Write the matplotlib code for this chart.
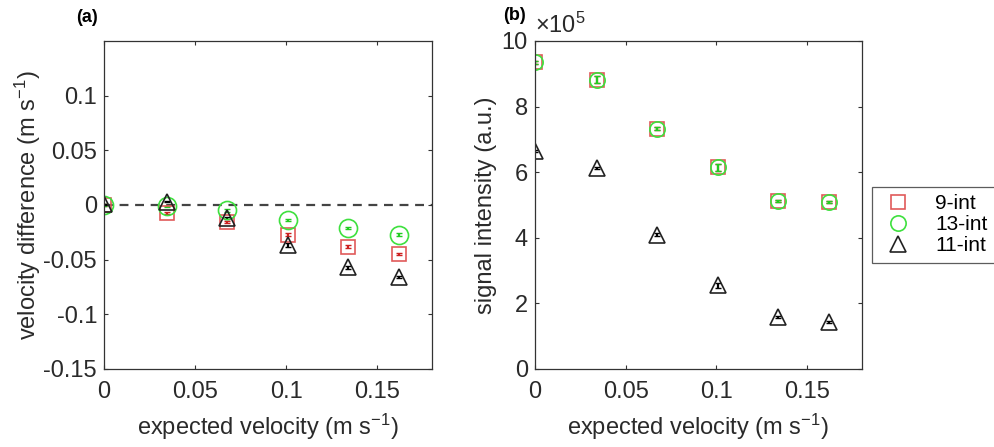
import matplotlib.pyplot as plt
import numpy as np
from matplotlib.lines import Line2D
from matplotlib.ticker import FuncFormatter

plt.rcParams['font.family'] = ['Liberation Sans', 'DejaVu Sans']
plt.rcParams['axes.unicode_minus'] = False
plt.rcParams['mathtext.fontset'] = 'custom'
plt.rcParams['mathtext.rm'] = 'Liberation Sans'
plt.rcParams['mathtext.default'] = 'rm'

# expected velocity (m/s)
v_exp = [0, 0.0345, 0.0673, 0.101, 0.1337, 0.162]

# (a) velocity difference
dv_9 = [0, -0.0075, -0.0158, -0.027, -0.038, -0.0445]
dv_13 = [0, -0.001, -0.005, -0.0136, -0.021, -0.027]
dv_11 = [0.0005, 0.003, -0.012, -0.0365, -0.057, -0.066]
dv_9_err = [0.0005, 0.001, 0.001, 0.001, 0.001, 0.001]
dv_13_err = [0.0005, 0.0005, 0.001, 0.001, 0.001, 0.001]
dv_11_err = [0.0005, 0.0005, 0.001, 0.0015, 0.0015, 0.001]

# (b) signal intensity
si_9 = [9.35e5, 8.82e5, 7.33e5, 6.15e5, 5.12e5, 5.08e5]
si_13 = [9.35e5, 8.82e5, 7.33e5, 6.15e5, 5.12e5, 5.08e5]
si_11 = [6.65e5, 6.12e5, 4.09e5, 2.55e5, 1.58e5, 1.43e5]
si_9_err = [0.05e5, 0.1e5, 0.05e5, 0.1e5, 0.03e5, 0.03e5]
si_13_err = [0.05e5, 0.1e5, 0.05e5, 0.1e5, 0.03e5, 0.03e5]
si_11_err = [0.03e5, 0.03e5, 0.05e5, 0.08e5, 0.03e5, 0.03e5]

labels = ['9-int', '13-int', '11-int']
red = '#e05a5a'
green = '#3ee03e'
black = '#222222'
fs = 17

fig = plt.figure(figsize=(9.94, 4.47), dpi=100)
ax1 = fig.add_axes([0.1046, 0.1745, 0.33, 0.7338])
ax2 = fig.add_axes([0.538, 0.1745, 0.329, 0.7338])


def style(ax):
    ax.tick_params(direction='in', top=True, right=True, labelsize=fs,
                   length=3, width=0.8, colors='#333333', labelcolor='#2a2a2a', pad=5)
    ax.tick_params(axis='x', pad=9)
    for s in ax.spines.values():
        s.set_color('#333333')
        s.set_linewidth(0.9)


def draw(ax, y9, e9, y13, e13, y11, e11, ms_c):
    ax.errorbar(v_exp, y9, yerr=e9, fmt='none', ecolor='#cc2020', elinewidth=1.6, capsize=2)
    ax.errorbar(v_exp, y13, yerr=e13, fmt='none', ecolor='#22cc22', elinewidth=1.6, capsize=2)
    ax.errorbar(v_exp, y11, yerr=e11, fmt='none', ecolor='black', elinewidth=1.6, capsize=2)
    ax.plot(v_exp, y9, 's', mfc='none', mec=red, ms=10, mew=1.2)
    ax.plot(v_exp, y13, 'o', mfc='none', mec=green, ms=ms_c, mew=1.2)
    ax.plot(v_exp, y11, '^', mfc='none', mec=black, ms=12, mew=1.2)


# (a)
ax1.axhline(0, color='#444444', ls=(0, (4, 3)), lw=1.6, zorder=0)
draw(ax1, dv_9, dv_9_err, dv_13, dv_13_err, dv_11, dv_11_err, 13)
ax1.set_xlim(0, 0.18)
ax1.set_ylim(-0.15, 0.15)
ax1.set_xticks([0, 0.05, 0.1, 0.15])
ax1.set_xticklabels(['0', '0.05', '0.1', '0.15'])
ax1.set_yticks([-0.15, -0.1, -0.05, 0, 0.05, 0.1])
ax1.set_yticklabels(['-0.15', '-0.1', '-0.05', '0', '0.05', '0.1'])
ax1.set_xlabel('expected velocity (m s$^{-1}$)', fontsize=fs, color='#2a2a2a', labelpad=6)
ax1.set_ylabel('velocity difference (m s$^{-1}$)', fontsize=fs, color='#2a2a2a', labelpad=0)
style(ax1)

# (b)
draw(ax2, si_9, si_9_err, si_13, si_13_err, si_11, si_11_err, 11)
ax2.set_xlim(0, 0.18)
ax2.set_ylim(0, 10e5)
ax2.set_xticks([0, 0.05, 0.1, 0.15])
ax2.set_xticklabels(['0', '0.05', '0.1', '0.15'])
ax2.set_yticks(np.arange(0, 11e5, 2e5))
ax2.yaxis.set_major_formatter(FuncFormatter(lambda v, p: '%g' % (v / 1e5)))
ax2.text(0.0, 1.01, '$\\times$10$^5$', transform=ax2.transAxes, fontsize=fs,
         color='#2a2a2a', ha='left', va='bottom')
ax2.set_xlabel('expected velocity (m s$^{-1}$)', fontsize=fs, color='#2a2a2a', labelpad=6)
ax2.set_ylabel('signal intensity (a.u.)', fontsize=fs, color='#2a2a2a', labelpad=3)
style(ax2)

fig.text(0.077, 0.96, '(a)', fontsize=13, fontweight='bold', ha='left', va='center')
fig.text(0.506, 0.965, '(b)', fontsize=13, fontweight='bold', ha='left', va='center')

handles = [
    Line2D([], [], ls='none', marker='s', mfc='none', mec=red, ms=10, mew=1.2),
    Line2D([], [], ls='none', marker='o', mfc='none', mec=green, ms=11, mew=1.2),
    Line2D([], [], ls='none', marker='^', mfc='none', mec=black, ms=12, mew=1.2),
]
leg = fig.legend(handles, labels, loc='center left', bbox_to_anchor=(0.877, 0.497),
                 fontsize=15, frameon=True, fancybox=False, edgecolor='#333333',
                 borderpad=0.35, labelspacing=0.1, handletextpad=0.9, handlelength=1.8,
                 borderaxespad=0)
leg.get_frame().set_linewidth(0.9)

fig.savefig('out.png', dpi=100)
